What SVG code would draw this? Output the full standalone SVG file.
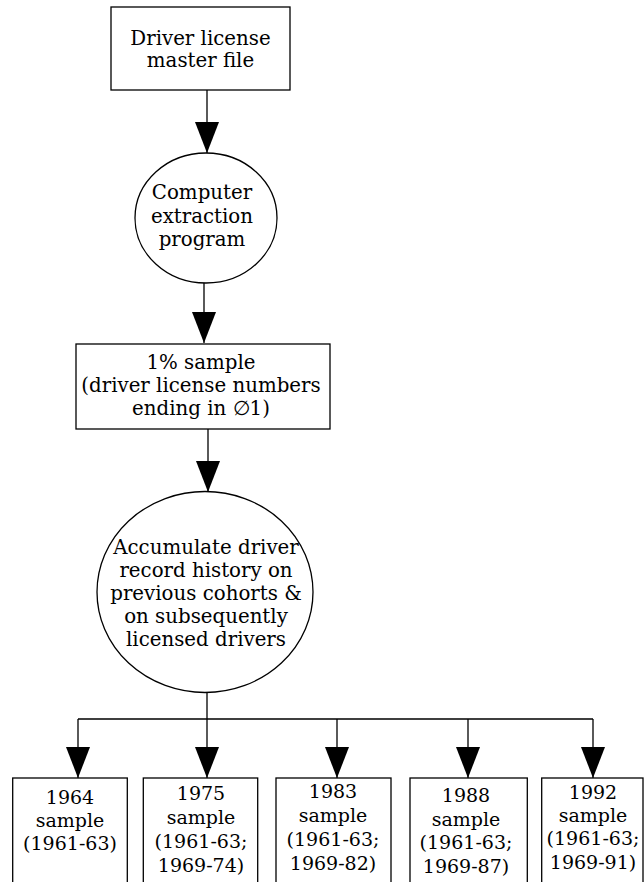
<svg xmlns="http://www.w3.org/2000/svg" width="644" height="882" viewBox="0 0 644 882">
<style>
.shape{fill:#fff;stroke:#000;stroke-width:1.3}
.lbl{font-family:"DejaVu Serif","Liberation Serif",serif;font-size:19.8px;fill:#000;text-anchor:middle}
.sm{font-size:19px}
.conn{fill:none;stroke:#000;stroke-width:1.3}
</style>
<defs>
<marker id="ah" markerUnits="userSpaceOnUse" markerWidth="32" markerHeight="24" refX="31" refY="12" orient="auto" viewBox="0 0 32 24">
<path d="M0,0 L31,12 L0,24 z" fill="#000"/>
</marker>
</defs>
<rect width="644" height="882" fill="#fff"/>
<g id="connectors">
<path class="conn" d="M207,90 V153" marker-end="url(#ah)"/>
<path class="conn" d="M204,283 V343" marker-end="url(#ah)"/>
<path class="conn" d="M208,429 V492" marker-end="url(#ah)"/>
<path class="conn" d="M207,693 V719 M78,719 H593"/>
<path class="conn" d="M78,719 V778" marker-end="url(#ah)"/>
<path class="conn" d="M207,719 V778" marker-end="url(#ah)"/>
<path class="conn" d="M337,719 V778" marker-end="url(#ah)"/>
<path class="conn" d="M468,719 V778" marker-end="url(#ah)"/>
<path class="conn" d="M593,719 V778" marker-end="url(#ah)"/>
</g>
<g id="master-file">
<rect class="shape" x="111" y="7" width="179" height="83"/>
<text class="lbl" x="200.5" y="45">Driver license</text>
<text class="lbl" x="200.5" y="67">master file</text>
</g>
<g id="extraction">
<ellipse class="shape" cx="206" cy="218" rx="71" ry="65"/>
<text class="lbl" x="202" y="199">Computer</text>
<text class="lbl" x="202" y="222.5">extraction</text>
<text class="lbl" x="202" y="246">program</text>
</g>
<g id="sample">
<rect class="shape" x="76" y="344" width="254" height="85"/>
<text class="lbl" x="201" y="369">1% sample</text>
<text class="lbl" x="201" y="392">(driver license numbers</text>
<text class="lbl" x="201" y="415">ending in ∅1)</text>
</g>
<g id="accumulate">
<ellipse class="shape" cx="205" cy="592" rx="108" ry="100.5"/>
<text class="lbl" x="206" y="554">Accumulate driver</text>
<text class="lbl" x="206" y="577">record history on</text>
<text class="lbl" x="206" y="600">previous cohorts &amp;</text>
<text class="lbl" x="206" y="623">on subsequently</text>
<text class="lbl" x="206" y="646">licensed drivers</text>
</g>
<g id="s1964">
<rect class="shape" x="12.7" y="778" width="114.6" height="130"/>
<text class="lbl sm" x="70" y="804">1964</text>
<text class="lbl sm" x="70" y="827">sample</text>
<text class="lbl sm" x="70" y="850">(1961-63)</text>
</g>
<g id="s1975">
<rect class="shape" x="143.3" y="778" width="114.4" height="130"/>
<text class="lbl sm" x="201" y="800">1975</text>
<text class="lbl sm" x="201" y="824">sample</text>
<text class="lbl sm" x="201" y="848">(1961-63;</text>
<text class="lbl sm" x="201" y="872">1969-74)</text>
</g>
<g id="s1983">
<rect class="shape" x="276" y="778" width="115" height="130"/>
<text class="lbl sm" x="333" y="798">1983</text>
<text class="lbl sm" x="333" y="822">sample</text>
<text class="lbl sm" x="333" y="846">(1961-63;</text>
<text class="lbl sm" x="333" y="870">1969-82)</text>
</g>
<g id="s1988">
<rect class="shape" x="410" y="778" width="117.3" height="130"/>
<text class="lbl sm" x="466" y="801.5">1988</text>
<text class="lbl sm" x="466" y="825.5">sample</text>
<text class="lbl sm" x="466" y="849">(1961-63;</text>
<text class="lbl sm" x="466" y="873">1969-87)</text>
</g>
<g id="s1992">
<rect class="shape" x="541.7" y="778" width="101.3" height="130"/>
<text class="lbl sm" x="593" y="799">1992</text>
<text class="lbl sm" x="593" y="822">sample</text>
<text class="lbl sm" x="593" y="845">(1961-63;</text>
<text class="lbl sm" x="593" y="869">1969-91)</text>
</g>
</svg>
